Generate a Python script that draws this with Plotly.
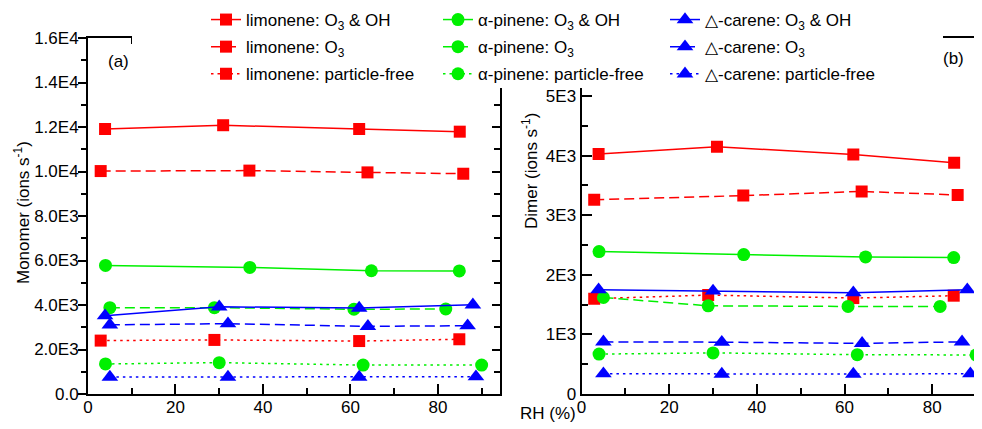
import plotly.graph_objects as go

# ---------------- data ----------------
rh_lim_ox = [3.9, 30.9, 62.0, 85.0]
rh_lim_o3 = [2.9, 36.9, 63.9, 85.8]
rh_lim_pf = [2.9, 28.9, 62.0, 84.9]
rh_pin_ox = [4.0, 37.0, 64.8, 84.9]
rh_pin_o3 = [5.0, 28.9, 60.8, 81.8]
rh_pin_pf = [4.0, 30.0, 62.9, 90.0]
rh_car_ox = [3.9, 30.0, 62.0, 88.0]
rh_car_o3 = [5.0, 32.0, 64.0, 86.8]
rh_car_pf = [5.0, 32.0, 62.0, 88.7]

mono_lim_ox = [11910, 12080, 11910, 11790]
mono_lim_o3 = [10020, 10040, 9960, 9900]
mono_lim_pf = [2400, 2430, 2380, 2460]
mono_pin_ox = [5780, 5690, 5540, 5530]
mono_pin_o3 = [3880, 3880, 3810, 3820]
mono_pin_pf = [1350, 1410, 1300, 1300]
mono_car_ox = [3520, 3920, 3860, 4010]
mono_car_o3 = [3110, 3160, 3040, 3070]
mono_car_pf = [760, 760, 760, 780]

dim_lim_ox = [4030, 4150, 4020, 3880]
dim_lim_o3 = [3260, 3330, 3400, 3340]
dim_lim_pf = [1600, 1660, 1610, 1650]
dim_pin_ox = [2390, 2340, 2300, 2290]
dim_pin_o3 = [1620, 1480, 1470, 1470]
dim_pin_pf = [670, 690, 660, 655]
dim_car_ox = [1750, 1730, 1700, 1750]
dim_car_o3 = [875, 870, 850, 875]
dim_car_pf = [340, 335, 335, 340]

mono_tickvals = [0, 2000, 4000, 6000, 8000, 10000, 12000, 14000, 16000]
mono_ticktext = ["0.0", "2.0E3", "4.0E3", "6.0E3", "8.0E3", "1.0E4", "1.2E4", "1.4E4", "1.6E4"]
dim_tickvals = [0, 1000, 2000, 3000, 4000, 5000]
dim_ticktext = ["0", "1E3", "2E3", "3E3", "4E3", "5E3"]

labels = {
    "lim_ox": "limonene: O<sub>3</sub> &amp; OH",
    "lim_o3": "limonene: O<sub>3</sub>",
    "lim_pf": "limonene: particle-free",
    "pin_ox": "α-pinene: O<sub>3</sub> &amp; OH",
    "pin_o3": "α-pinene: O<sub>3</sub>",
    "pin_pf": "α-pinene: particle-free",
    "car_ox": "△-carene: O<sub>3</sub> &amp; OH",
    "car_o3": "△-carene: O<sub>3</sub>",
    "car_pf": "△-carene: particle-free",
}

# ---------------- layout helpers ----------------
# the page body adds an 8 px margin, so the figure is drawn 8 px in from the top-left
OFF = 8
W, H = 982 - OFF, 429 - OFF
ML, MR, MT, MB = 88 - OFF, 0, 38 - OFF, 35
PW, PH = W - ML - MR, H - MT - MB
FONT = "Arial, Liberation Sans, sans-serif"


def px_x(px):
    """screen pixel x -> paper coordinate"""
    return (px - OFF - ML) / PW


def px_y(py):
    """screen pixel y -> paper coordinate"""
    return (H + OFF - MB - py) / PH


RED, GREEN, BLUE = "#FF0000", "#00F000", "#0000FF"
DASH = "10px,5px"
DOT = "2.5px,4px"

series = [
    ("lim_ox", rh_lim_ox, mono_lim_ox, dim_lim_ox, RED, "solid", "square", 12, "legend"),
    ("lim_o3", rh_lim_o3, mono_lim_o3, dim_lim_o3, RED, DASH, "square", 12, "legend"),
    ("lim_pf", rh_lim_pf, mono_lim_pf, dim_lim_pf, RED, DOT, "square", 12, "legend"),
    ("pin_ox", rh_pin_ox, mono_pin_ox, dim_pin_ox, GREEN, "solid", "circle", 13, "legend2"),
    ("pin_o3", rh_pin_o3, mono_pin_o3, dim_pin_o3, GREEN, DASH, "circle", 13, "legend2"),
    ("pin_pf", rh_pin_pf, mono_pin_pf, dim_pin_pf, GREEN, DOT, "circle", 13, "legend2"),
    ("car_ox", rh_car_ox, mono_car_ox, dim_car_ox, BLUE, "solid", "triangle-up", 14.5, "legend3"),
    ("car_o3", rh_car_o3, mono_car_o3, dim_car_o3, BLUE, DASH, "triangle-up", 14.5, "legend3"),
    ("car_pf", rh_car_pf, mono_car_pf, dim_car_pf, BLUE, DOT, "triangle-up", 14.5, "legend3"),
]

fig = go.Figure()
for key, rh, mono, dim, col, dash, sym, size, leg in series:
    common = dict(
        mode="lines+markers",
        line=dict(color=col, width=1.5, dash=dash),
        marker=dict(symbol=sym, size=size, color=col, line=dict(width=0)),
    )
    fig.add_trace(go.Scatter(x=rh, y=mono, name=labels[key], legend=leg,
                             legendgroup=key, xaxis="x", yaxis="y", **common))
    fig.add_trace(go.Scatter(x=rh, y=dim, name=labels[key], showlegend=False,
                             legendgroup=key, xaxis="x2", yaxis="y2", **common))

# dummy trace to keep the mirrored right-tick axis of panel (a)
fig.add_trace(go.Scatter(x=[None], y=[None], xaxis="x", yaxis="y3",
                         showlegend=False, hoverinfo="skip"))

axis_font = dict(family=FONT, size=17, color="black")
xcommon = dict(
    tickmode="array", tickvals=[0, 20, 40, 60, 80], ticktext=["0", "20", "40", "60", "80"],
    ticks="inside", ticklen=10, tickwidth=2, tickcolor="black",
    minor=dict(tickvals=[10, 30, 50, 70, 90], ticks="inside", ticklen=6,
               tickwidth=2, tickcolor="black"),
    showline=True, linewidth=2, linecolor="black", mirror="ticks",
    showgrid=False, zeroline=False, tickfont=axis_font, ticklabelstandoff=-3,
)

fig.update_layout(
    width=W, height=H,
    margin=dict(l=ML, r=MR, t=MT, b=MB, autoexpand=False),
    paper_bgcolor="white", plot_bgcolor="white",
    font=dict(family=FONT, size=17, color="black"),
    xaxis=dict(domain=[0, px_x(500)], range=[0, 94.2], anchor="y", **xcommon),
    xaxis2=dict(domain=[px_x(581.5), 1], range=[0, 91.35], anchor="y2", **xcommon),
    yaxis=dict(
        domain=[0, 1], range=[0, 16000], anchor="x",
        tickmode="array", tickvals=mono_tickvals, ticktext=mono_ticktext,
        ticks="outside", ticklen=8, tickwidth=2, tickcolor="black",
        minor=dict(dtick=1000, ticks="outside", ticklen=5, tickwidth=2, tickcolor="black"),
        showline=True, linewidth=2, linecolor="black", mirror=True,
        showgrid=False, zeroline=False, tickfont=axis_font, ticklabelstandoff=-4,
    ),
    yaxis3=dict(
        overlaying="y", side="right", anchor="x", range=[0, 16000],
        tickmode="array", tickvals=mono_tickvals, showticklabels=False,
        ticks="inside", ticklen=8, tickwidth=2, tickcolor="black",
        minor=dict(dtick=1000, ticks="inside", ticklen=6, tickwidth=2, tickcolor="black"),
        showline=False, showgrid=False, zeroline=False,
    ),
    yaxis2=dict(
        domain=[0, 1], range=[0, 5975], anchor="x2",
        tickmode="array", tickvals=dim_tickvals, ticktext=dim_ticktext,
        ticks="inside", ticklen=10, tickwidth=2, tickcolor="black",
        minor=dict(dtick=500, ticks="inside", ticklen=6, tickwidth=2, tickcolor="black"),
        showline=True, linewidth=2, linecolor="black", mirror=False,
        showgrid=False, zeroline=False, tickfont=axis_font,
    ),
    showlegend=True,
)

leg_common = dict(
    orientation="v", bgcolor="rgba(0,0,0,0)", borderwidth=0,
    font=dict(family=FONT, size=17, color="black"),
    xanchor="left", yanchor="top", tracegroupgap=2, itemwidth=30,
)
fig.update_layout(
    legend=dict(x=px_x(206), y=px_y(2), **leg_common),
    legend2=dict(x=px_x(438), y=px_y(2), **leg_common),
    legend3=dict(x=px_x(665), y=px_y(2), **leg_common),
)

# white legend box covering the top of the frames
fig.add_shape(type="rect", xref="paper", yref="paper",
              x0=px_x(132), x1=px_x(943), y0=px_y(88), y1=px_y(0),
              fillcolor="white", line=dict(width=0), layer="above")

ann_font = dict(family=FONT, size=17, color="black")
ann_common = dict(xref="paper", yref="paper", showarrow=False, font=ann_font,
                  xanchor="center", yanchor="middle")
fig.add_annotation(x=px_x(118), y=px_y(61), text="(a)", **ann_common)
fig.add_annotation(x=px_x(953), y=px_y(59), text="(b)", **ann_common)
fig.add_annotation(x=px_x(22), y=px_y(213), text="Monomer (ions s<sup>-1</sup>)",
                   textangle=-90, **ann_common)
fig.add_annotation(x=px_x(530), y=px_y(171), text="Dimer (ions s<sup>-1</sup>)",
                   textangle=-90, **ann_common)
fig.add_annotation(x=px_x(548), y=px_y(413), text="RH (%)", **ann_common)

fig.write_html("out.html")
